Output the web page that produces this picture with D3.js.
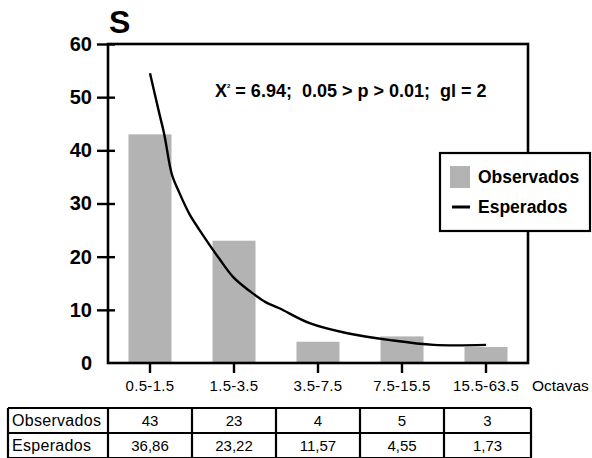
<!DOCTYPE html>
<html>
<head>
<meta charset="utf-8">
<script src="https://cdn.jsdelivr.net/npm/d3@7"></script>
<style>
  body { margin: 0; background: #fff; }
  svg { display: block; font-family: "Liberation Sans", Arial, sans-serif; }
  text { white-space: pre; }
</style>
</head>
<body>
<svg id="chart" width="592" height="458"></svg>
<script>
// categories (octaves) and observed / expected counts
const categories = ["0.5-1.5", "1.5-3.5", "3.5-7.5", "7.5-15.5", "15.5-63.5"];
const observed = [43, 23, 4, 5, 3];
const expectedLabels = ["36,86", "23,22", "11,57", "4,55", "1,73"];
const yTicks = [0, 10, 20, 30, 40, 50, 60];

// fitted curve as drawn: position in octave steps (0 = first class) and value
const curvePos = [0, 0.11, 0.17, 0.26, 0.35, 0.47, 0.59, 0.83, 1.0, 1.19, 1.37, 1.54, 1.9, 2.35, 2.86, 3.38, 4.0];
const curveVal = [54.5, 47, 43, 35.5, 32, 28, 25, 19.5, 16, 13.5, 11.5, 10.3, 7.5, 5.6, 4.3, 3.4, 3.4];

const rowLabels = ["Observados", "Esperados"];

const svg = d3.select("#chart");
const margin = {left: 108, right: 528, top: 44, bottom: 363};

const x = d3.scaleBand()
    .domain(categories)
    .range([margin.left, margin.right])
    .paddingInner(0.488)
    .paddingOuter(0.244);

const y = d3.scaleLinear()
    .domain([0, 60])
    .range([margin.bottom, margin.top]);

const xPos = d3.scaleLinear()
    .domain([0, categories.length - 1])
    .range([x(categories[0]) + x.bandwidth() / 2, x(categories[categories.length - 1]) + x.bandwidth() / 2]);

// bars
svg.append("g")
  .selectAll("rect")
  .data(observed)
  .join("rect")
    .attr("x", (d, i) => x(categories[i]))
    .attr("y", d => y(d))
    .attr("width", x.bandwidth())
    .attr("height", d => y(0) - y(d))
    .attr("fill", "#b3b3b3");

// expected curve
const line = d3.line()
    .x(d => xPos(d[0]))
    .y(d => y(d[1]))
    .curve(d3.curveCatmullRom);

svg.append("path")
    .datum(curvePos.map((p, i) => [p, curveVal[i]]))
    .attr("d", line)
    .attr("fill", "none")
    .attr("stroke", "#000")
    .attr("stroke-width", 2.4);

// frame
svg.append("rect")
    .attr("x", margin.left)
    .attr("y", margin.top)
    .attr("width", margin.right - margin.left)
    .attr("height", margin.bottom - margin.top)
    .attr("fill", "none")
    .attr("stroke", "#000")
    .attr("stroke-width", 2.6);

// y axis
const yAxis = svg.append("g")
    .attr("transform", "translate(" + margin.left + ",0)")
    .call(d3.axisLeft(y).tickValues(yTicks).tickSizeInner(11).tickSizeOuter(0).tickPadding(5));
yAxis.select(".domain").remove();
yAxis.selectAll(".tick line")
    .attr("x1", 7)
    .attr("stroke-width", 2.4)
    .attr("display", d => d === 0 ? "none" : null);
yAxis.selectAll(".tick text")
    .attr("font-size", 20)
    .attr("font-weight", "bold")
    .attr("font-family", "Liberation Sans, Arial, sans-serif")
    .attr("fill", "#000");

// x axis
const xAxis = svg.append("g")
    .attr("transform", "translate(0," + margin.bottom + ")")
    .call(d3.axisBottom(x).tickSize(10).tickPadding(7));
xAxis.select(".domain").remove();
xAxis.selectAll(".tick line").attr("stroke-width", 2.4);
xAxis.selectAll(".tick text")
    .attr("font-size", 15)
    .attr("letter-spacing", 0.3)
    .attr("font-family", "Liberation Sans, Arial, sans-serif")
    .attr("fill", "#000");

svg.append("text")
    .attr("x", 532)
    .attr("y", 391)
    .attr("font-size", 15.5)
    .text("Octavas");

// title
svg.append("text")
    .attr("x", 109)
    .attr("y", 33)
    .attr("font-size", 32)
    .attr("font-weight", "bold")
    .text("S");

// statistic annotation
const ann = svg.append("text")
    .attr("x", 215)
    .attr("y", 97)
    .attr("font-size", 18)
    .attr("font-weight", "bold");
ann.append("tspan").text("X");
ann.append("tspan").attr("font-size", 6).attr("dy", -9).text("2");
ann.append("tspan").attr("dy", 9).text(" = 6.94;  0.05 > p > 0.01;  gl = 2");

// legend
const lg = svg.append("g").attr("transform", "translate(440,153)");
lg.append("rect")
    .attr("width", 150).attr("height", 78)
    .attr("fill", "#fff").attr("stroke", "#000").attr("stroke-width", 2.2);
lg.append("rect")
    .attr("x", 10).attr("y", 13).attr("width", 20).attr("height", 22)
    .attr("fill", "#b3b3b3");
lg.append("line")
    .attr("x1", 12).attr("x2", 30).attr("y1", 54).attr("y2", 54)
    .attr("stroke", "#000").attr("stroke-width", 3);
lg.selectAll("text.lab")
  .data(rowLabels)
  .join("text")
    .attr("class", "lab")
    .attr("x", 38)
    .attr("y", (d, i) => 24 + i * 30)
    .attr("dy", "0.35em")
    .attr("font-size", 17.5)
    .attr("font-weight", "bold")
    .text(d => d);

// table under the chart
const tableTop = 408, rowH = 25, tableLeft = 8;
const colEdges = [tableLeft, margin.left].concat(categories.map(c => x(c) + x.bandwidth() / 2 + x.step() / 2));
colEdges[colEdges.length - 1] = margin.right + 3;
const tableRows = [observed.map(String), expectedLabels];

const tg = svg.append("g");
[0, 1, 2].forEach(r => {
  tg.append("line")
      .attr("x1", tableLeft).attr("x2", colEdges[colEdges.length - 1])
      .attr("y1", tableTop + r * rowH).attr("y2", tableTop + r * rowH)
      .attr("stroke", "#000").attr("stroke-width", 2.2);
});
colEdges.forEach(cx => {
  tg.append("line")
      .attr("x1", cx).attr("x2", cx)
      .attr("y1", tableTop).attr("y2", tableTop + 2 * rowH)
      .attr("stroke", "#000").attr("stroke-width", 2.2);
});
rowLabels.forEach((lab, r) => {
  tg.append("text")
      .attr("x", tableLeft + 4)
      .attr("y", tableTop + r * rowH + rowH / 2)
      .attr("dy", "0.35em")
      .attr("font-size", 16)
      .attr("letter-spacing", 0.3)
      .text(lab);
  tg.selectAll("text.r" + r)
    .data(tableRows[r])
    .join("text")
      .attr("class", "r" + r)
      .attr("x", (d, i) => (colEdges[i + 1] + colEdges[i + 2]) / 2)
      .attr("y", tableTop + r * rowH + rowH / 2)
      .attr("dy", "0.35em")
      .attr("text-anchor", "middle")
      .attr("font-size", 15)
      .text(d => d);
});
</script>
</body>
</html>
